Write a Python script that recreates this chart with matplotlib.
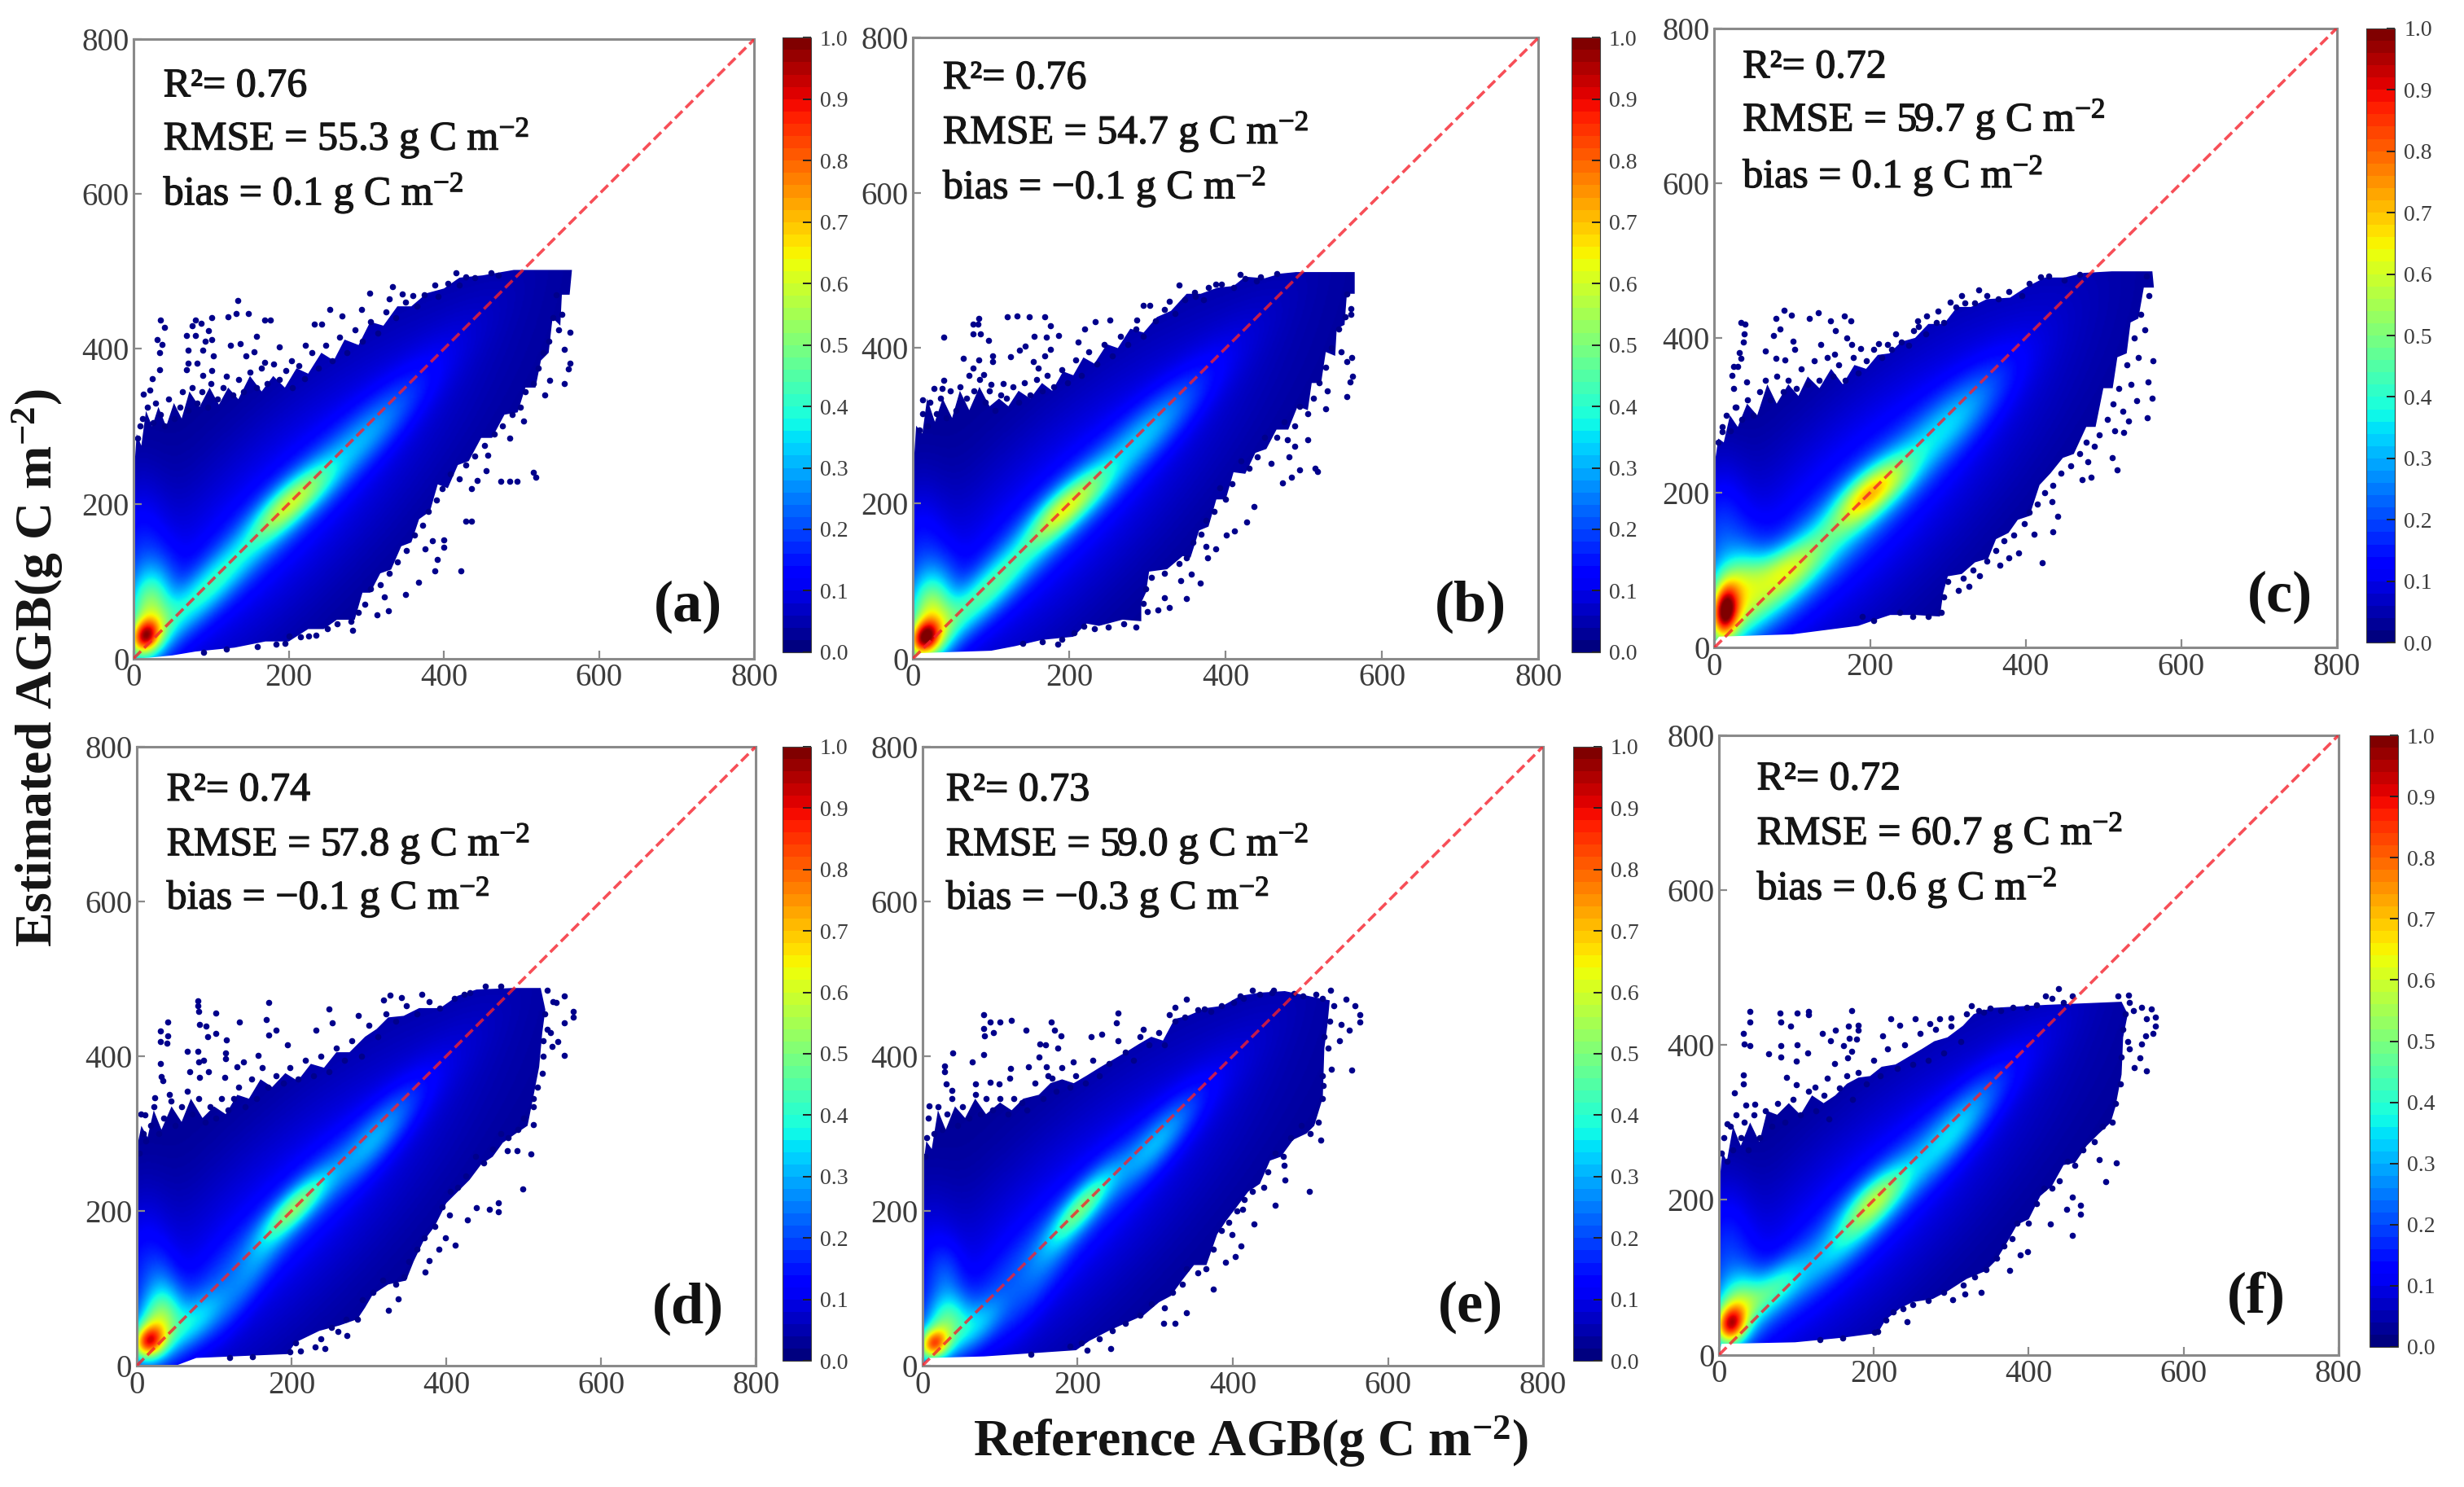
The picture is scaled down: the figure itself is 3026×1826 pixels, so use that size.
import numpy as np
import matplotlib
matplotlib.use("Agg")
import matplotlib.pyplot as plt
import matplotlib.patheffects as pe
from matplotlib.colors import Normalize
from matplotlib.cm import ScalarMappable
from matplotlib.patches import Polygon

plt.rcParams['font.family'] = ['Liberation Serif', 'DejaVu Serif']
plt.rcParams['mathtext.fontset'] = 'custom'
plt.rcParams['mathtext.rm'] = 'Liberation Serif'
plt.rcParams['mathtext.bf'] = 'Liberation Serif:bold'
plt.rcParams['mathtext.default'] = 'regular'

# ---- data (reference AGB, estimated AGB) ----
labels = ['(a)', '(b)', '(c)', '(d)', '(e)', '(f)']
r2 = ['0.76', '0.76', '0.72', '0.74', '0.73', '0.72']
rmse = ['55.3', '54.7', '59.7', '57.8', '59.0', '60.7']
bias = ['0.1', '\u22120.1', '0.1', '\u22120.1', '\u22120.3', '0.6']
axis_ticks = [0, 200, 400, 600, 800]
cbar_ticks = [0.0, 0.1, 0.2, 0.3, 0.4, 0.5, 0.6, 0.7, 0.8, 0.9, 1.0]

# outline of the solid part of each cloud
cloud_a = [(0,3),(0,230),(4,290),(10,275),(16,320),(24,300),(32,325),(42,300),(52,330),(62,310),(72,345),(85,325),(98,350),(110,328),(122,350),(135,335),(150,365),(165,345),(180,365),(195,350),(210,375),(225,368),(242,395),(258,385),(272,412),(290,405),(305,435),(322,430),(340,455),(358,455),(378,472),(400,478),(420,492),(450,495),(490,502),(565,502),(562,470),(552,470),(550,430),(540,440),(535,395),(525,385),(518,350),(505,350),(495,318),(478,315),(462,285),(448,285),(432,255),(418,250),(405,220),(392,225),(382,190),(368,180),(358,150),(345,145),(332,115),(318,110),(305,85),(295,85),(285,50),(262,50),(245,38),(225,38),(200,22),(170,22),(130,14),(80,9),(50,4),(20,1),(0,0)]
cloud_b = [(0,3),(0,235),(4,300),(12,290),(18,335),(28,305),(38,335),(50,310),(60,345),(72,320),(85,350),(98,325),(110,335),(122,325),(135,345),(150,335),(165,355),(178,345),(192,370),(205,365),(218,388),(232,380),(248,405),(262,400),(278,425),(295,420),(312,440),(330,448),(350,470),(368,470),(390,478),(410,480),(425,492),(450,490),(470,496),(490,498),(565,498),(565,470),(555,470),(552,430),(542,425),(540,390),(528,395),(522,355),(510,355),(505,320),(492,325),(480,295),(465,295),(452,270),(438,265),(425,238),(410,240),(400,205),(388,205),(378,170),(366,165),(355,130),(345,132),(325,115),(302,112),(298,85),(292,72),(292,48),(268,50),(238,42),(222,45),(205,28),(165,24),(131,16),(100,10),(10,7),(0,0)]
cloud_c = [(0,6),(0,235),(5,270),(12,265),(20,300),(30,285),(42,315),(55,300),(68,340),(80,315),(95,340),(108,325),(120,350),(135,335),(150,360),(165,340),(180,365),(195,360),(210,378),(225,380),(240,395),(258,400),(275,418),(295,418),(312,440),(330,440),(350,450),(380,452),(400,465),(425,478),(450,478),(475,484),(511,486),(563,486),(565,465),(552,465),(545,425),(535,420),(530,380),(518,375),(512,335),(500,335),(490,285),(478,285),(462,250),(448,245),(432,225),(418,210),(405,170),(390,165),(378,148),(362,140),(352,115),(335,110),(318,95),(300,92),(294,70),(290,40),(258,42),(226,42),(205,35),(185,28),(100,17),(6,14),(0,6)]
cloud_d = [(0,1),(0,280),(6,310),(14,295),(22,330),(32,305),(45,335),(58,315),(70,345),(85,320),(100,335),(115,325),(130,350),(145,345),(160,370),(175,360),(192,378),(208,368),(225,390),(242,385),(258,405),(275,405),(295,425),(310,435),(325,450),(345,452),(365,462),(392,462),(415,478),(439,486),(486,488),(522,488),(528,460),(524,430),(520,386),(512,345),(505,310),(490,300),(473,288),(460,270),(445,260),(430,240),(415,225),(400,210),(385,180),(370,160),(358,135),(348,110),(325,105),(305,92),(295,75),(285,60),(262,52),(236,45),(205,30),(195,15),(77,10),(53,1),(0,0)]
cloud_e = [(0,3),(0,250),(5,290),(12,280),(20,330),(30,305),(42,335),(55,320),(68,345),(82,325),(100,340),(115,330),(130,345),(150,350),(165,365),(180,370),(195,365),(212,375),(228,385),(245,395),(262,405),(278,415),(295,425),(310,420),(325,448),(342,452),(365,462),(387,465),(410,478),(435,482),(467,484),(525,472),(522,440),(518,410),(516,346),(505,310),(495,300),(478,292),(462,270),(448,265),(435,235),(420,225),(405,205),(392,188),(380,170),(366,130),(350,130),(336,112),(320,90),(305,82),(285,65),(262,55),(240,45),(215,32),(198,20),(80,12),(9,10),(0,1)]
cloud_f = [(0,3),(0,215),(4,262),(10,250),(18,295),(28,270),(40,300),(52,275),(62,315),(75,310),(90,325),(105,310),(120,335),(135,325),(150,335),(165,350),(180,358),(195,360),(210,372),(228,375),(245,385),(262,395),(278,405),(295,410),(315,425),(329,440),(352,448),(423,452),(520,456),(528,440),(522,410),(520,362),(512,320),(506,300),(490,285),(475,270),(460,248),(445,245),(430,218),(415,205),(400,175),(385,168),(372,145),(358,122),(344,108),(320,98),(295,82),(276,72),(250,68),(234,60),(215,45),(205,28),(160,22),(98,16),(3,14),(0,1)]

# scattered points outside the solid part
points_a = [(35,437),(40,428),(30,412),(37,406),(34,395),(34,373),(24,361),(21,347),(13,342),(80,437),(87,433),(101,440),(122,441),(132,446),(134,462),(148,446),(169,437),(176,437),(75,430),(96,424),(68,417),(80,417),(101,412),(92,410),(125,405),(137,407),(158,416),(70,398),(89,398),(103,391),(70,382),(82,382),(101,372),(145,391),(155,396),(68,373),(89,366),(169,383),(188,403),(204,385),(221,405),(233,432),(242,432),(253,451),(269,443),(294,451),(304,472),(334,480),(329,465),(346,471),(360,469),(388,482),(416,498),(428,493),(461,498),(562,421),(562,381),(555,355),(560,374),(555,399),(536,359),(530,340),(503,307),(485,285),(515,241),(518,234),(473,229),(485,229),(494,229),(456,263),(454,243),(443,230),(436,219),(436,177),(428,177),(400,153),(400,144),(391,128),(388,113),(422,113),(367,99),(351,83),(328,62),(314,56),(323,80),(376,142),(385,152),(282,36),(226,29),(200,29),(184,19),
 (5,285),(8,300),(12,310),(18,325),(25,305),(28,330),(35,315),(40,300),(45,335),(52,310),(60,325),(63,345),(70,320),(75,350),(82,330),(88,345),(95,325),(100,355),(108,335),(115,350),(120,365),(128,340),(135,360),(142,345),(150,370),(158,350),(165,375),(172,355),(180,380),(188,360),(196,372),(205,350),(213,378),(220,362),(230,395),(238,375),(248,405),(256,385),(265,415),(275,395),(285,425),(295,410),(305,435),(315,420),(325,448),(338,440),(350,460),(365,455),(375,470),(392,468),(405,485),(420,482),(440,492),(470,495),
 (545,470),(552,445),(548,425),(540,440),(535,410),(528,395),(522,375),(515,355),(505,345),(498,325),(488,315),(475,300),(465,290),(452,275),(440,262),(428,250),(420,232),(408,238),(398,220),(390,205),(380,190),(372,172),(362,160),(352,140),(340,125),(330,110),(318,95),(305,90),(298,70),(290,60),(280,48),(262,45),(250,38),(235,30),(215,28),(195,20),(160,15),(120,12),(90,8)]
points_b = [(39,414),(84,438),(77,431),(83,431),(77,418),(86,418),(97,410),(121,440),(133,441),(149,440),(168,440),(176,429),(155,415),(171,414),(186,416),(144,403),(136,397),(125,389),(176,398),(168,390),(102,390),(102,383),(64,387),(84,385),(154,383),(160,374),(77,374),(39,359),(27,348),(37,348),(12,333),(100,353),(115,354),(90,366),(211,408),(220,425),(233,434),(252,436),(286,436),(295,455),(303,455),(328,460),(340,481),(361,467),(378,478),(387,482),(418,495),(439,487),(561,388),(555,383),(562,364),(559,356),(555,338),(560,443),(560,451),(528,322),(514,245),(517,241),(494,243),(484,234),(473,226),(505,282),(488,274),(479,282),(481,260),(458,251),(436,196),(427,176),(411,164),(401,159),(387,141),(377,130),(375,144),(356,109),(367,97),(350,77),(342,100),(328,66),(313,63),(322,78),(295,71),(185,18),(206,33),
 (8,295),(12,315),(18,300),(22,330),(30,315),(35,335),(42,310),(48,345),(55,320),(60,350),(68,335),(72,365),(78,345),(85,360),(92,330),(98,345),(105,320),(112,340),(120,335),(128,350),(135,330),(142,355),(150,340),(158,360),(165,345),(172,365),(180,350),(190,372),(198,355),(208,385),(215,365),(225,395),(235,380),(245,405),(255,390),(265,415),(275,405),(285,425),(295,415),(310,435),(322,450),(335,445),(348,462),(360,472),(372,462),(395,482),(410,478),(425,490),(445,492),(465,496),
 (555,470),(553,440),(545,425),(548,395),(535,400),(528,375),(520,355),(530,345),(512,335),(505,315),(495,325),(488,300),(475,305),(465,285),(450,285),(440,260),(430,245),(420,255),(408,225),(400,205),(392,220),(385,190),(375,178),(368,160),(358,150),(350,130),(340,122),(322,110),(305,105),(298,90),(300,60),(285,40),(270,45),(250,40),(232,38),(218,42),(190,25),(165,22),(140,20)]
points_c = [(34,420),(39,418),(38,405),(37,395),(32,381),(34,374),(25,363),(30,363),(23,352),(25,335),(41,343),(10,279),(27,311),(90,436),(79,425),(99,429),(84,411),(76,403),(122,425),(133,433),(149,422),(167,428),(175,422),(156,409),(170,400),(176,392),(137,391),(101,396),(103,385),(65,383),(91,372),(79,374),(154,379),(188,386),(211,393),(223,391),(233,405),(256,409),(261,422),(273,428),(287,435),(303,446),(318,455),(340,462),(378,460),(419,479),(564,370),(557,343),(563,322),(556,297),(543,319),(532,293),(526,278),(511,245),(518,229),(473,217),(484,220),(480,240),(434,188),(441,170),(435,150),(411,146),(391,122),(421,109),(378,116),(367,106),(327,79),(314,74),(341,93),
 (5,265),(10,285),(15,300),(20,280),(28,310),(35,295),(42,320),(50,300),(58,330),(65,345),(72,320),(80,350),(88,330),(95,345),(105,335),(112,360),(120,340),(128,370),(135,345),(145,375),(152,350),(160,365),(168,345),(178,375),(185,355),(195,370),(205,385),(215,375),(228,385),(240,395),(250,390),(262,415),(272,405),(285,420),(295,420),(310,440),(322,445),(335,445),(350,455),(365,450),(395,455),(405,470),(430,480),(450,475),(470,482),
 (555,480),(558,455),(548,430),(553,410),(540,400),(545,375),(530,365),(535,340),(520,335),(512,315),(525,305),(505,295),(515,280),(495,275),(488,260),(470,250),(478,265),(458,235),(445,225),(435,210),(425,200),(415,185),(405,175),(398,160),(385,145),(372,138),(362,125),(350,112),(332,100),(320,90),(300,85),(295,65),(292,45),(275,40),(255,40),(238,45),(205,35),(190,40)]
points_d = [(79,471),(79,465),(80,458),(102,456),(40,444),(171,469),(133,444),(167,447),(81,441),(90,439),(31,432),(40,426),(39,417),(31,419),(92,425),(102,429),(116,421),(180,433),(171,427),(65,406),(79,406),(115,404),(115,397),(31,390),(80,392),(86,395),(69,380),(93,380),(32,374),(34,368),(81,373),(114,372),(130,386),(138,393),(157,401),(195,415),(232,433),(248,461),(253,443),(286,452),(319,472),(327,479),(342,476),(368,480),(423,480),(23,346),(44,342),(11,324),(552,478),(564,458),(564,450),(552,443),(542,469),(544,419),(537,412),(552,401),(524,378),(512,335),(512,311),(509,274),(491,278),(479,278),(499,228),(467,210),(467,199),(439,204),(456,202),(427,188),(404,195),(411,156),(399,165),(390,151),(378,136),(373,121),(338,86),(325,72),(272,39),(260,44),(243,22),(230,24),(212,19),
 (3,275),(8,300),(5,325),(12,290),(18,310),(22,335),(28,300),(35,320),(42,350),(50,310),(58,335),(65,355),(72,325),(80,345),(88,315),(95,335),(102,320),(110,345),(118,330),(125,345),(132,360),(140,335),(148,370),(155,345),(162,385),(170,360),(180,375),(190,365),(198,385),(208,370),(218,395),(228,375),(238,400),(248,380),(258,410),(268,395),(278,420),(290,400),(300,440),(312,425),(322,455),(335,445),(348,465),(362,455),(378,470),(392,462),(410,475),(430,482),(450,490),(470,490),
 (530,485),(538,470),(527,455),(530,435),(535,430),(525,420),(525,400),(518,360),(512,345),(500,320),(492,305),(480,295),(470,300),(460,280),(448,262),(438,270),(425,245),(415,230),(405,225),(395,205),(385,180),(372,165),(362,150),(352,135),(345,115),(335,105),(318,110),(305,95),(292,85),(285,60),(270,60),(252,50),(238,35),(205,30),(198,18),(150,12),(120,11)]
points_e = [(79,453),(87,444),(100,444),(115,446),(79,436),(80,426),(92,430),(133,433),(166,444),(170,434),(179,426),(151,416),(159,415),(174,410),(39,404),(79,402),(64,392),(29,387),(29,380),(114,384),(137,386),(150,399),(160,386),(167,371),(113,371),(31,364),(38,356),(68,364),(87,366),(99,364),(9,336),(194,392),(217,425),(231,428),(252,456),(250,443),(285,435),(318,454),(326,463),(340,474),(363,461),(401,469),(414,475),(425,485),(453,485),(479,481),(507,480),(526,485),(546,474),(557,465),(564,454),(564,444),(540,441),(550,433),(538,420),(527,383),(553,382),(517,362),(513,292),(499,225),(467,240),(455,207),(466,259),(427,183),(413,202),(399,169),(411,155),(391,134),(403,141),(375,99),(340,68),(325,55),(311,55),(243,22),(212,20),
 (3,270),(5,295),(8,320),(15,300),(20,335),(25,305),(32,325),(38,345),(45,310),(52,335),(60,320),(68,350),(75,325),(82,345),(90,330),(100,345),(110,325),(118,345),(128,340),(135,330),(145,365),(155,345),(162,375),(172,355),(180,385),(190,360),(198,375),(210,365),(220,395),(228,375),(240,390),(252,420),(262,405),(272,395),(280,425),(292,415),(305,430),(312,415),(325,445),(338,450),(355,460),(372,458),(385,465),(410,478),(435,480),(450,482),(490,478),(515,475),
 (530,465),(525,445),(518,425),(523,410),(515,375),(515,345),(510,315),(500,300),(488,310),(475,295),(465,270),(455,275),(445,250),(440,230),(425,225),(415,215),(405,200),(395,185),(385,175),(375,150),(365,125),(355,120),(340,125),(335,105),(322,95),(312,75),(295,80),(280,65),(262,55),(245,45),(228,35),(205,30),(190,25),(140,15)]
points_f = [(40,443),(40,430),(79,441),(80,430),(92,425),(101,441),(115,443),(115,439),(171,445),(31,415),(32,401),(40,399),(133,415),(150,419),(167,425),(180,426),(180,419),(144,406),(168,409),(178,408),(80,399),(64,389),(80,385),(101,400),(114,390),(100,379),(161,399),(171,392),(166,384),(149,376),(211,412),(222,434),(233,426),(253,434),(272,428),(285,434),(300,435),(326,451),(342,442),(364,445),(397,449),(422,463),(438,473),(456,463),(31,361),(31,350),(87,358),(100,349),(20,338),(34,322),(46,324),(10,298),(140,357),(124,346),(515,463),(529,465),(546,449),(558,447),(564,436),(552,434),(564,425),(551,412),(560,415),(546,401),(544,384),(536,371),(552,367),(513,248),(499,224),(491,252),(467,193),(467,181),(456,204),(449,188),(456,154),(428,169),(399,133),(389,129),(375,109),(317,78),(338,81),(302,71),(243,43),(201,29),
 (3,260),(6,280),(10,250),(14,295),(18,265),(22,310),(28,280),(32,300),(38,265),(45,310),(52,280),(60,315),(68,295),(75,325),(85,300),(95,330),(105,310),(115,340),(125,315),(135,335),(142,305),(155,345),(165,360),(172,330),(180,365),(190,350),(200,380),(208,360),(218,395),(230,370),(240,400),(250,375),(260,415),(270,380),(280,420),(290,390),(300,425),(312,405),(320,440),(335,445),(350,448),(380,449),(410,452),(430,460),(445,455),
 (530,455),(525,440),(535,445),(522,420),(528,405),(520,385),(530,395),(518,350),(512,325),(508,300),(495,295),(485,275),(470,265),(460,245),(450,250),(440,225),(430,215),(420,215),(410,195),(400,170),(385,170),(378,150),(368,140),(358,125),(345,110),(330,100),(315,90),(290,80),(270,70),(250,65),(238,60),(225,55),(215,45),(205,30),(160,22),(130,20)]

# density zones: x, y, density, spread along, spread across, direction
zones_a = [(14,28,.52,16,13,60),(20,62,.36,38,20,82),(90,85,.20,70,17,45),(195,195,.29,38,16,45),(235,225,.10,30,16,45),(200,195,.13,170,23,45),(170,170,.11,240,70,45),(300,285,.10,60,18,45),(8,130,.10,70,25,90)]
zones_b = [(14,26,.52,16,13,60),(22,56,.40,38,20,82),(90,82,.24,70,17,45),(190,190,.32,38,16,45),(232,222,.10,30,16,45),(200,195,.13,170,23,45),(170,170,.11,240,70,45),(300,290,.12,60,18,45),(8,120,.10,70,25,90)]
zones_c = [(13,45,.56,24,12,85),(25,70,.30,40,22,70),(85,85,.28,60,21,45),(195,195,.37,38,18,45),(235,220,.10,30,17,45),(170,160,.16,160,26,45),(170,170,.13,240,75,45),(305,290,.14,60,21,45),(8,130,.13,70,25,90),(70,100,.12,40,18,20)]
zones_d = [(14,30,.52,16,14,50),(28,55,.34,30,19,70),(75,55,.18,36,17,45),(205,205,.27,40,13,45),(150,120,.07,60,14,60),(200,195,.11,170,23,45),(170,170,.10,240,70,45),(310,295,.13,50,16,50),(8,120,.09,70,25,90),(30,100,.08,30,15,90)]
zones_e = [(13,27,.55,15,13,50),(30,55,.28,26,19,70),(70,50,.16,32,16,45),(205,205,.26,42,13,50),(150,110,.06,60,16,60),(200,195,.10,170,23,45),(170,170,.10,240,70,45),(305,290,.14,48,15,50),(8,120,.07,70,25,90),(30,110,.08,30,15,90)]
zones_f = [(14,38,.55,18,14,75),(25,65,.30,30,20,70),(70,85,.22,34,16,45),(200,200,.27,38,16,45),(170,150,.10,60,16,45),(200,195,.13,170,23,45),(170,170,.11,240,70,45),(305,290,.15,55,17,50),(8,120,.12,70,25,90)]

clouds = [cloud_a, cloud_b, cloud_c, cloud_d, cloud_e, cloud_f]
points = [points_a, points_b, points_c, points_d, points_e, points_f]
zones = [zones_a, zones_b, zones_c, zones_d, zones_e, zones_f]

# ---- layout: boxes in the 1568 x 946 preview's coordinates ----
S = 3026 / 1568
W, H = 3026, 1826
boxes = [(85,480,25,419),(581,979,24,419),(1091,1487,18,412),(87,481,475,869),(587,982,475,869),(1094,1488,468,862)]
cbars = [(498,516,24,415),(1000,1018,24,415),(1506,1524,18,409),(498,516,475,866),(1001,1019,475,866),(1508,1526,468,857)]
text_x = [104, 600, 1109, 106, 602, 1118]
text_y = [(55,88,123),(50,84,119),(43,76,112),(503,537,571),(503,537,571),(496,530,565)]
label_xy = [(438,386),(936,386),(1451,380),(438,833),(936,832),(1436,826)]

def rect(b):
    l, r, t, bt = b
    return [l*S/W, 1-bt*S/H, (r-l)*S/W, (bt-t)*S/H]

def fx(x): return x*S/W
def fy(y): return 1-y*S/H

cmap = plt.get_cmap('jet', 50)
norm = Normalize(0, 1)
GRAY = '#8a8a8a'
TXT = '#3c3c3c'
INK = '#151515'
semi = [pe.withStroke(linewidth=0.9, foreground=INK)]

fig = plt.figure(figsize=(W/100, H/100), dpi=100, facecolor='white')

gx = np.arange(0, 602, 1.5)
gy = np.arange(0, 602, 1.5)
XX, YY = np.meshgrid(gx, gy)

for i in range(6):
    ax = fig.add_axes(rect(boxes[i]))
    field = np.full(XX.shape, 0.02)
    for (zx, zy, val, sa, sc, ang) in zones[i]:
        t = np.deg2rad(ang)
        u = (XX-zx)*np.cos(t) + (YY-zy)*np.sin(t)
        v = -(XX-zx)*np.sin(t) + (YY-zy)*np.cos(t)
        field += val*np.exp(-0.5*((u/sa)**2 + (v/sc)**2))
    im = ax.imshow(field, origin='lower', extent=(0, 601, 0, 601), cmap='jet', norm=norm,
                   interpolation='bilinear', zorder=1, aspect='auto')
    poly = Polygon(clouds[i], closed=True, transform=ax.transData, fc='none', ec='none')
    ax.add_patch(poly)
    im.set_clip_path(poly)
    px, py = zip(*points[i])
    ax.scatter(px, py, s=30, color='#00008b', linewidths=0, zorder=2)
    ax.plot([0, 800], [0, 800], ls=(0, (3.5, 1.6)), color='#f5222d', lw=2.6, alpha=0.8, zorder=3)
    ax.set_xlim(0, 800)
    ax.set_ylim(0, 800)
    ax.set_xticks(axis_ticks)
    ax.set_yticks(axis_ticks)
    ax.tick_params(direction='in', length=7, width=1.6, color=GRAY, labelsize=28, labelcolor=TXT, pad=4)
    for s in ax.spines.values():
        s.set_color(GRAY)
        s.set_linewidth(2.2)

    cax = fig.add_axes(rect(cbars[i]))
    cb = fig.colorbar(ScalarMappable(norm=norm, cmap=cmap), cax=cax, ticks=cbar_ticks)
    cb.ax.tick_params(direction='in', length=7, width=1.4, color='#202020', labelsize=20, labelcolor=TXT, pad=8)
    cb.ax.set_yticklabels([f'{v:.1f}' for v in cbar_ticks])
    cb.outline.set_linewidth(0.8)
    cb.outline.set_edgecolor('#404040')

    ys = text_y[i]
    for y, s in zip(ys, [f'R\u00b2= {r2[i]}', f'RMSE = {rmse[i]} g C m$^{{\u2212 2}}$', f'bias = {bias[i]} g C m$^{{\u2212 2}}$']):
        fig.text(fx(text_x[i]), fy(y), s, fontsize=36, color=INK, ha='left', va='center', path_effects=semi)
    fig.text(fx(label_xy[i][0]), fy(label_xy[i][1]), labels[i], fontsize=52, fontweight='bold',
             color='#111111', ha='center', va='center')

fig.text(fx(24), fy(425), 'Estimated AGB(g C m$^{\u22122}$)', fontsize=46, fontweight='bold', color=INK,
         rotation=90, ha='center', va='center')
fig.text(fx(796), fy(917), 'Reference AGB(g C m$^{\u22122}$)', fontsize=46, fontweight='bold', color=INK,
         ha='center', va='center')

fig.savefig('out.png', dpi=100)
